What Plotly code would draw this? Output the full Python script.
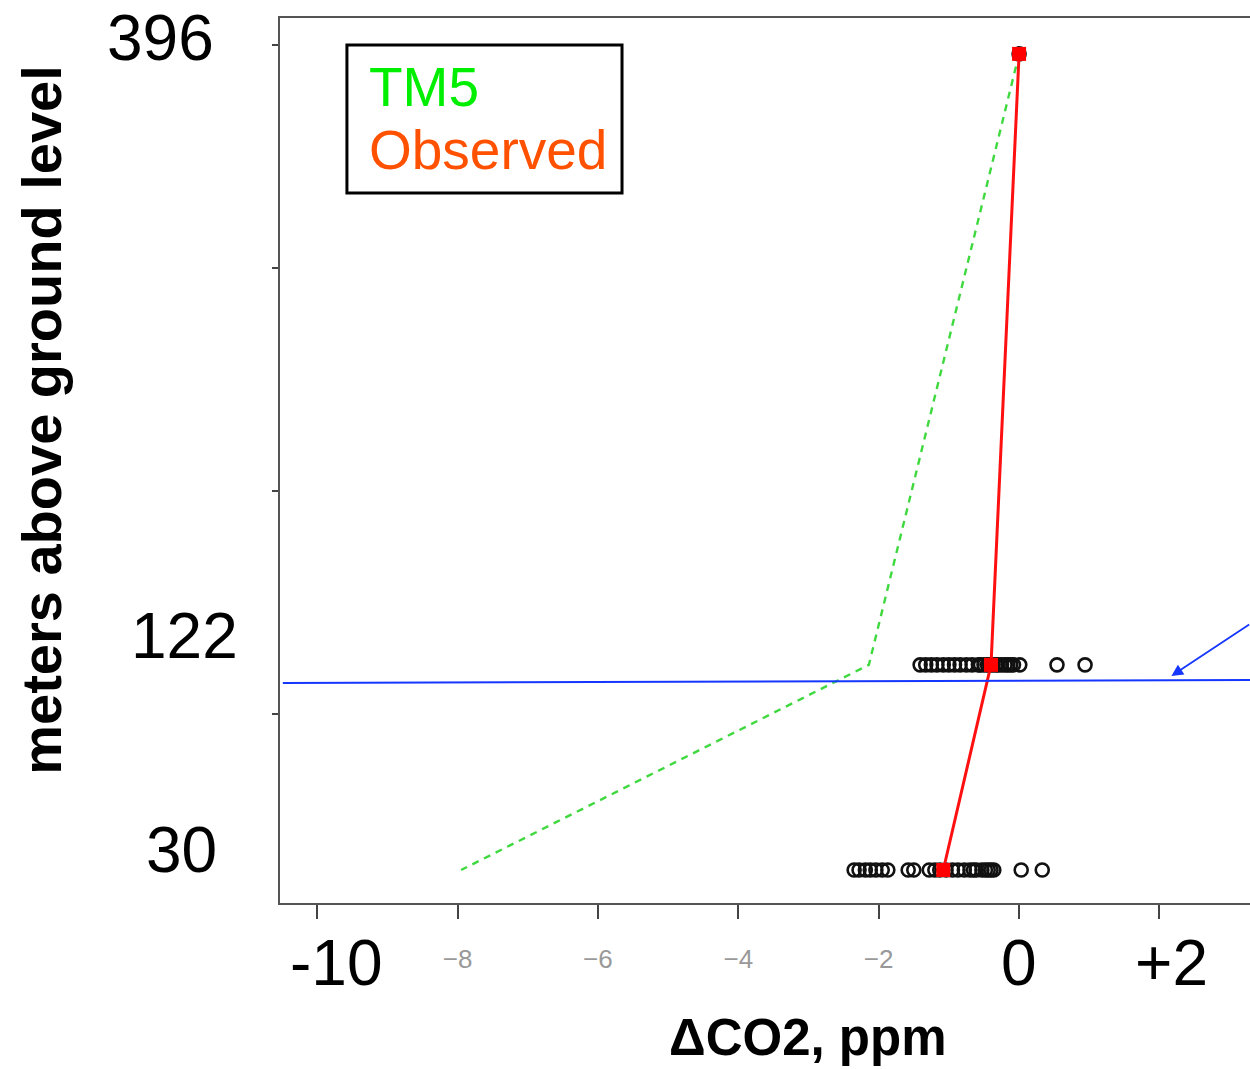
# Vertical CO2 gradient profile: TM5 model vs observed, with individual obs as open circles.

import plotly.graph_objs as go

# heights (m above ground) of the three sampling levels
levels = [396, 122, 30]

# TM5 model and observed mean delta CO2 (ppm) at each level
tm5_dco2 = [0.0, -2.14, -7.95]
obs_mean_dco2 = [0.0, -0.40, -1.08]

# individual observations per level
obs_396 = [0.0]
obs_122 = [-1.41, -1.33, -1.25, -1.17, -1.08, -1.0, -0.92, -0.84, -0.75, -0.67, -0.58, -0.55, -0.5, -0.45,
	-0.42, -0.38, -0.33, -0.3, -0.25, -0.2, -0.16, -0.12, -0.08, 0.01, 0.54, 0.94]
obs_30 = [-2.35, -2.28, -2.19, -2.12, -2.04, -1.95, -1.87, -1.58, -1.5, -1.28, -1.2, -1.13, -1.04, -0.95,
	-0.87, -0.78, -0.7, -0.65, -0.61, -0.53, -0.48, -0.44, -0.4, -0.36, 0.03, 0.33]

x_tickvals = [-10, -8, -6, -4, -2, 0, 2]
x_ticktext = ['', '\u22128', '\u22126', '\u22124', '\u22122', '', '']
x_big_labels = ['-10', '0', '+2']
x_big_pos = [-9.73, 0.0, 2.17]
y_tickvals = [100, 200, 300, 400]
y_big_labels = ['396', '122', '30']

FONT = 'Liberation Sans, Arial, sans-serif'
GREEN = '#3fd93f'


def main():
	traces = []
	# individual obs as open circles
	for lev, vals in zip(levels, [obs_396, obs_122, obs_30]):
		traces.append(go.Scatter(x=vals, y=[lev] * len(vals), mode='markers', showlegend=False,
								 marker=dict(symbol='circle-open', size=13, color='#111', line=dict(width=2.6))))
	traces.append(go.Scatter(x=tm5_dco2, y=levels, mode='lines', name='TM5', showlegend=False,
							 line=dict(color=GREEN, width=2.4, dash='7px,6px')))
	traces.append(go.Scatter(x=obs_mean_dco2, y=levels, mode='lines+markers', name='Observed', showlegend=False,
							 line=dict(color='#ff1010', width=3),
							 marker=dict(symbol='square', size=14, color='#ff0000')))

	layout = go.Layout(
		width=1250, height=1069,
		margin=dict(l=280, r=0, t=18, b=166),
		paper_bgcolor='white', plot_bgcolor='white',
		font=dict(family=FONT, color='black'),
		xaxis=dict(range=[-10.53, 3.29], showgrid=False, zeroline=False,
				   showline=True, linecolor='#555', linewidth=2, mirror=True,
				   tickmode='array', tickvals=x_tickvals, ticktext=x_ticktext,
				   ticks='outside', ticklen=14, tickwidth=1.5, tickcolor='#444',
				   ticklabelstandoff=18, tickfont=dict(size=26, color='#999')),
		yaxis=dict(range=[15.2, 412.1], showgrid=False, zeroline=False,
				   showline=True, linecolor='#555', linewidth=2,
				   tickmode='array', tickvals=y_tickvals, showticklabels=False,
				   ticks='outside', ticklen=6, tickwidth=1.5, tickcolor='#444'),
	)
	fig = go.Figure(data=traces, layout=layout)

	# big hand-placed tick labels
	for txt, xv in zip(x_big_labels, x_big_pos):
		fig.add_annotation(text=txt, x=xv, xref='x', y=0, yref='paper', yanchor='middle', yshift=-60,
						   showarrow=False, font=dict(size=64, color='black'))
	for txt, yv, xs in zip(y_big_labels, [403.1, 135.0, 39.0], [-64, -40, -61]):
		fig.add_annotation(text=txt, x=0, xref='paper', xanchor='right', xshift=xs, y=yv, yref='y',
						   yanchor='middle', showarrow=False, font=dict(size=64, color='black'))

	# axis titles
	fig.add_annotation(text='<b>meters above ground level</b>', x=0, xref='paper', xanchor='center', xshift=-238,
					   y=0.546, yref='paper', yanchor='middle', textangle=-90, showarrow=False,
					   font=dict(size=56, color='black'))
	fig.add_annotation(text='<b>\u0394CO2, ppm</b>', x=0.544, xref='paper', xanchor='center', y=0, yref='paper',
					   yanchor='middle', yshift=-134, showarrow=False, font=dict(size=51, color='black'))

	# legend box
	fig.add_shape(type='rect', xref='paper', yref='paper', x0=0.069, x1=0.3526, y0=0.8023, y1=0.9695,
				  line=dict(color='black', width=3), fillcolor='white', layer='below')
	fig.add_annotation(text='TM5', x=0.0897, xref='paper', xanchor='left', y=0.922, yref='paper',
					   yanchor='middle', showarrow=False, font=dict(size=55, color='#00ee00'))
	fig.add_annotation(text='Observed', x=0.0897, xref='paper', xanchor='left', y=0.851, yref='paper',
					   yanchor='middle', showarrow=False, font=dict(size=55, color='#ff5100'))

	# blue reference line and arrow
	fig.add_shape(type='line', x0=-10.49, x1=3.29, y0=113.9, y1=115.2, line=dict(color='#1536ff', width=2))
	fig.add_annotation(x=2.17, y=117.0, ax=3.3, ay=140.5, axref='x', ayref='y', text='', showarrow=True,
					   arrowhead=2, arrowsize=1.3, arrowwidth=1.8, arrowcolor='#1536ff')

	# drop the default body margin so the figure sits flush with the window
	fig.write_html('out.html', config={'displayModeBar': False},
				   post_script="document.body.style.margin='0';")


if __name__ == '__main__':
	main()
